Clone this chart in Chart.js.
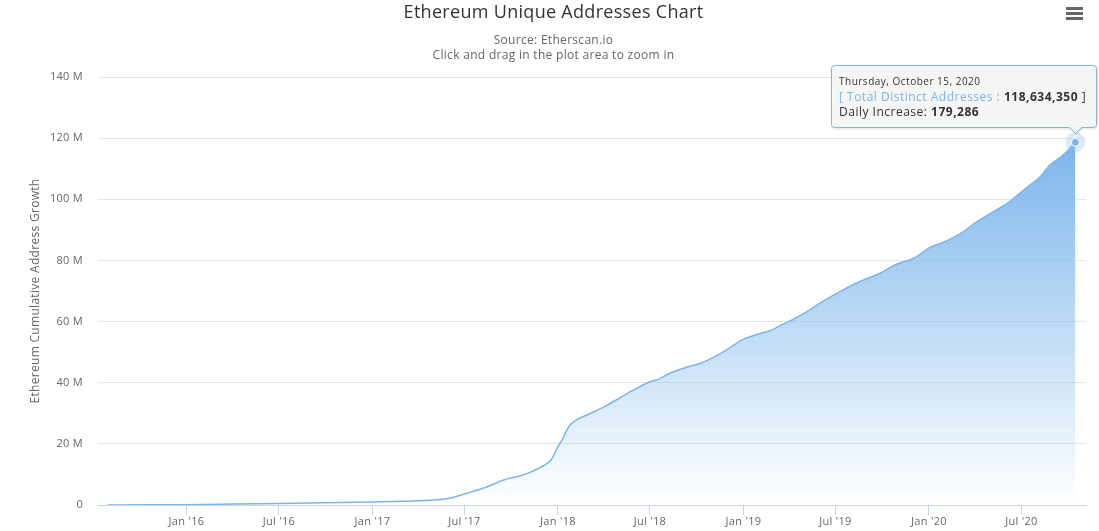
<!DOCTYPE html>
<html>
<head>
<meta charset="utf-8">
<title>Ethereum Unique Addresses Chart</title>
<script src="https://cdn.jsdelivr.net/npm/chart.js@4/dist/chart.umd.min.js"></script>
<style>
  html, body { margin: 0; padding: 0; background: #ffffff; overflow: hidden; }
  #wrap { position: relative; width: 1099px; height: 531px; }
</style>
</head>
<body>
<div id="wrap"><canvas id="chart" width="1099" height="531"></canvas></div>
<script>
// ---- data ----
const dates = [
  '2015-07-30','2015-10-01','2016-01-01','2016-04-01','2016-07-01','2016-10-01',
  '2017-01-01','2017-03-01','2017-05-01','2017-06-01','2017-07-01','2017-08-11',
  '2017-09-16','2017-10-18','2017-11-13','2017-12-06','2017-12-19','2018-01-01',
  '2018-01-11','2018-01-17','2018-01-24','2018-02-06','2018-03-01','2018-04-03',
  '2018-05-06','2018-06-01','2018-07-01','2018-07-17','2018-08-09','2018-09-14',
  '2018-10-11','2018-11-12','2018-12-09','2018-12-29','2019-01-24','2019-02-25',
  '2019-03-17','2019-04-12','2019-05-05','2019-06-07','2019-07-10','2019-08-18',
  '2019-09-27','2019-10-23','2019-12-08','2019-12-31','2020-02-05','2020-03-09',
  '2020-03-29','2020-05-01','2020-06-03','2020-06-28','2020-07-18','2020-08-07',
  '2020-08-26','2020-09-21','2020-10-15'
];
// Total distinct addresses, millions
const totalAddresses = [
  0.01, 0.06, 0.12, 0.3, 0.5, 0.75,
  1.0, 1.2, 1.6, 2.2, 3.6, 5.7,
  8.2, 9.5, 11.1, 13.1, 14.9, 19.1,
  21.8, 24.0, 26.0, 27.8, 29.6, 32.2,
  35.4, 37.8, 40.3, 41.1, 43.1, 45.2,
  46.5, 49.1, 51.8, 54.0, 55.6, 57.2,
  58.9, 61.0, 63.2, 66.7, 69.8, 73.1,
  75.8, 78.3, 81.2, 84.0, 86.4, 89.4,
  92.0, 95.4, 98.7, 102.0, 104.7, 107.4,
  111.2, 114.5, 118.63435
];
const xTickDates = ['2016-01-01','2016-07-01','2017-01-01','2017-07-01','2018-01-01',
                    '2018-07-01','2019-01-01','2019-07-01','2020-01-01','2020-07-01'];
const xTickLabels = ["Jan '16","Jul '16","Jan '17","Jul '17","Jan '18",
                     "Jul '18","Jan '19","Jul '19","Jan '20","Jul '20"];
const yTickValues = [0, 20, 40, 60, 80, 100, 120, 140];
const yTickLabels = ['0','20 M','40 M','60 M','80 M','100 M','120 M','140 M'];
const xRange = ['2015-07-11', '2020-11-05'];

const tooltipDate = 'Thursday, October 15, 2020';
const tooltipSeriesName = 'Total Distinct Addresses';
const tooltipTotal = '118,634,350';
const tooltipDailyLabel = 'Daily Increase: ';
const tooltipDaily = '179,286';

// ---- chart ----
const FONT = "'Open Sans', 'Noto Sans', 'DejaVu Sans', sans-serif";
const BLUE = '#7cb5ec';

const points = dates.map((d, i) => ({ x: Date.parse(d), y: totalAddresses[i] }));
const xTickValues = xTickDates.map(d => Date.parse(d));

function areaGradient(ctx) {
  const chart = ctx.chart;
  const a = chart.chartArea;
  if (!a) return 'rgba(124,181,236,0.5)';
  const yScale = chart.scales.y;
  const top = yScale.getPixelForValue(Math.max(...totalAddresses));
  const g = chart.ctx.createLinearGradient(0, top, 0, a.bottom);
  g.addColorStop(0, 'rgba(124,181,236,1)');
  g.addColorStop(1, 'rgba(124,181,236,0)');
  return g;
}

const spacingPlugin = {
  id: 'spacing',
  beforeInit(chart) { chart.ctx.letterSpacing = '0.3px'; },
  beforeUpdate(chart) { chart.ctx.letterSpacing = '0.3px'; },
  beforeDraw(chart) { chart.ctx.letterSpacing = '0.3px'; }
};

const overlayPlugin = {
  id: 'overlay',
  afterDatasetsDraw(chart) {
    const ctx = chart.ctx;
    const meta = chart.getDatasetMeta(0);
    const last = meta.data[meta.data.length - 1];
    const px = last.x, py = last.y;
    ctx.save();
    ctx.beginPath();
    ctx.arc(px, py, 10, 0, Math.PI * 2);
    ctx.fillStyle = 'rgba(124,181,236,0.25)';
    ctx.fill();
    ctx.beginPath();
    ctx.arc(px, py, 4, 0, Math.PI * 2);
    ctx.fillStyle = BLUE;
    ctx.fill();
    ctx.lineWidth = 1;
    ctx.strokeStyle = '#ffffff';
    ctx.stroke();
    ctx.restore();
  },
  afterDraw(chart) {
    const ctx = chart.ctx;
    const meta = chart.getDatasetMeta(0);
    const last = meta.data[meta.data.length - 1];
    const px = last.x, py = last.y;

    // hamburger menu icon
    ctx.save();
    ctx.fillStyle = '#666666';
    [7, 12, 17].forEach(y => ctx.fillRect(1066, y, 17, 3));
    ctx.restore();

    // tooltip
    ctx.save();
    ctx.letterSpacing = '0.5px';
    const f10 = `10px ${FONT}`, f12 = `12px ${FONT}`, f12b = `bold 12px ${FONT}`;
    ctx.font = f10; const w1 = ctx.measureText(tooltipDate).width;
    const s2a = '[ ' + tooltipSeriesName + ' : ';
    const s2c = ' ]';
    ctx.font = f12; const w2a = ctx.measureText(s2a).width; const w2c = ctx.measureText(s2c).width;
    ctx.font = f12b; const w2b = ctx.measureText(tooltipTotal).width;
    ctx.font = f12; const w3a = ctx.measureText(tooltipDailyLabel).width;
    ctx.font = f12b; const w3b = ctx.measureText(tooltipDaily).width;
    const contentW = Math.max(w1, w2a + w2b + w2c, w3a + w3b);
    const pad = 8;
    const bw = Math.round(contentW + pad * 2) + 2, bh = 62;
    const bottom = Math.round(py - 15) + 0.5;
    const top = bottom - bh;
    let right = Math.min(px + bw / 2, chart.width - 3);
    const left = Math.round(right - bw) + 0.5;
    right = left + bw;
    const r = 3, ah = 6, aw = 6;
    const ax = Math.round(px) + 0.5;
    ctx.beginPath();
    ctx.moveTo(left + r, top);
    ctx.lineTo(right - r, top);
    ctx.arcTo(right, top, right, top + r, r);
    ctx.lineTo(right, bottom - r);
    ctx.arcTo(right, bottom, right - r, bottom, r);
    ctx.lineTo(ax + aw, bottom);
    ctx.lineTo(ax, bottom + ah);
    ctx.lineTo(ax - aw, bottom);
    ctx.lineTo(left + r, bottom);
    ctx.arcTo(left, bottom, left, bottom - r, r);
    ctx.lineTo(left, top + r);
    ctx.arcTo(left, top, left + r, top, r);
    ctx.closePath();
    ctx.shadowColor = 'rgba(0,0,0,0.18)';
    ctx.shadowBlur = 3;
    ctx.shadowOffsetX = 1;
    ctx.shadowOffsetY = 1;
    ctx.fillStyle = 'rgba(247,247,247,0.92)';
    ctx.fill();
    ctx.shadowColor = 'transparent';
    ctx.lineWidth = 1;
    ctx.strokeStyle = BLUE;
    ctx.stroke();

    const tx = left + pad - 0.5;
    ctx.textBaseline = 'middle';
    ctx.textAlign = 'left';
    ctx.font = f10; ctx.fillStyle = '#333333';
    ctx.fillText(tooltipDate, tx, top + 17);
    ctx.font = f12; ctx.fillStyle = BLUE;
    ctx.fillText(s2a, tx, top + 32);
    ctx.font = f12b; ctx.fillStyle = '#333333';
    ctx.fillText(tooltipTotal, tx + w2a, top + 32);
    ctx.font = f12; ctx.fillStyle = '#333333';
    ctx.fillText(s2c, tx + w2a + w2b, top + 32);
    ctx.font = f12; ctx.fillStyle = '#333333';
    ctx.fillText(tooltipDailyLabel, tx, top + 47);
    ctx.font = f12b;
    ctx.fillText(tooltipDaily, tx + w3a, top + 47);
    ctx.restore();
  }
};

function build() {
  new Chart(document.getElementById('chart'), {
    type: 'line',
    data: {
      datasets: [{
        label: tooltipSeriesName,
        data: points,
        borderColor: BLUE,
        borderWidth: 1.5,
        backgroundColor: areaGradient,
        fill: 'origin',
        pointRadius: 0,
        pointHoverRadius: 0,
        cubicInterpolationMode: 'monotone'
      }]
    },
    options: {
      responsive: false,
      animation: false,
      devicePixelRatio: 1,
      events: [],
      layout: { padding: { left: 21, right: 13, top: 0, bottom: 0 } },
      plugins: {
        legend: { display: false },
        tooltip: { enabled: false },
        title: {
          display: true,
          text: 'Ethereum Unique Addresses Chart',
          color: '#333333',
          font: { family: FONT, size: 18, weight: 'normal', lineHeight: 1.2 },
          padding: { top: 2, bottom: 4 }
        },
        subtitle: {
          display: true,
          text: ['Source: Etherscan.io', 'Click and drag in the plot area to zoom in'],
          color: '#666666',
          font: { family: FONT, size: 12, weight: 'normal', lineHeight: 1.25 },
          padding: { top: 5, bottom: 14.4 }
        }
      },
      scales: {
        x: {
          type: 'linear',
          min: Date.parse(xRange[0]),
          max: Date.parse(xRange[1]),
          afterBuildTicks: s => { s.ticks = xTickValues.map(v => ({ value: v })); },
          afterFit: s => { s.height = 26; },
          ticks: {
            autoSkip: false,
            maxRotation: 0,
            padding: 0,
            color: '#666666',
            font: { family: FONT, size: 11 },
            callback: (v, i) => xTickLabels[i]
          },
          grid: { drawOnChartArea: false, drawTicks: true, tickLength: 10, color: '#ccd6eb', lineWidth: 1 },
          border: { display: true, color: '#ccd6eb', width: 1 }
        },
        y: {
          min: 0,
          max: 140,
          afterBuildTicks: s => { s.ticks = yTickValues.map(v => ({ value: v })); },
          afterFit: s => { s.width = 77; },
          ticks: {
            padding: 15,
            color: '#666666',
            font: { family: FONT, size: 11 },
            callback: (v, i) => yTickLabels[i]
          },
          grid: { color: '#e6e6e6', lineWidth: 1, drawTicks: false },
          border: { display: false },
          title: {
            display: true,
            text: 'Ethereum Cumulative Address Growth',
            color: '#666666',
            font: { family: FONT, size: 12 },
            padding: { top: 7, bottom: 0 }
          }
        }
      }
    },
    plugins: [spacingPlugin, overlayPlugin]
  });
}

if (document.fonts && document.fonts.load) {
  Promise.all([
    document.fonts.load("12px 'Open Sans'"),
    document.fonts.load("bold 12px 'Open Sans'")
  ]).then(build, build);
} else {
  build();
}
</script>
</body>
</html>
